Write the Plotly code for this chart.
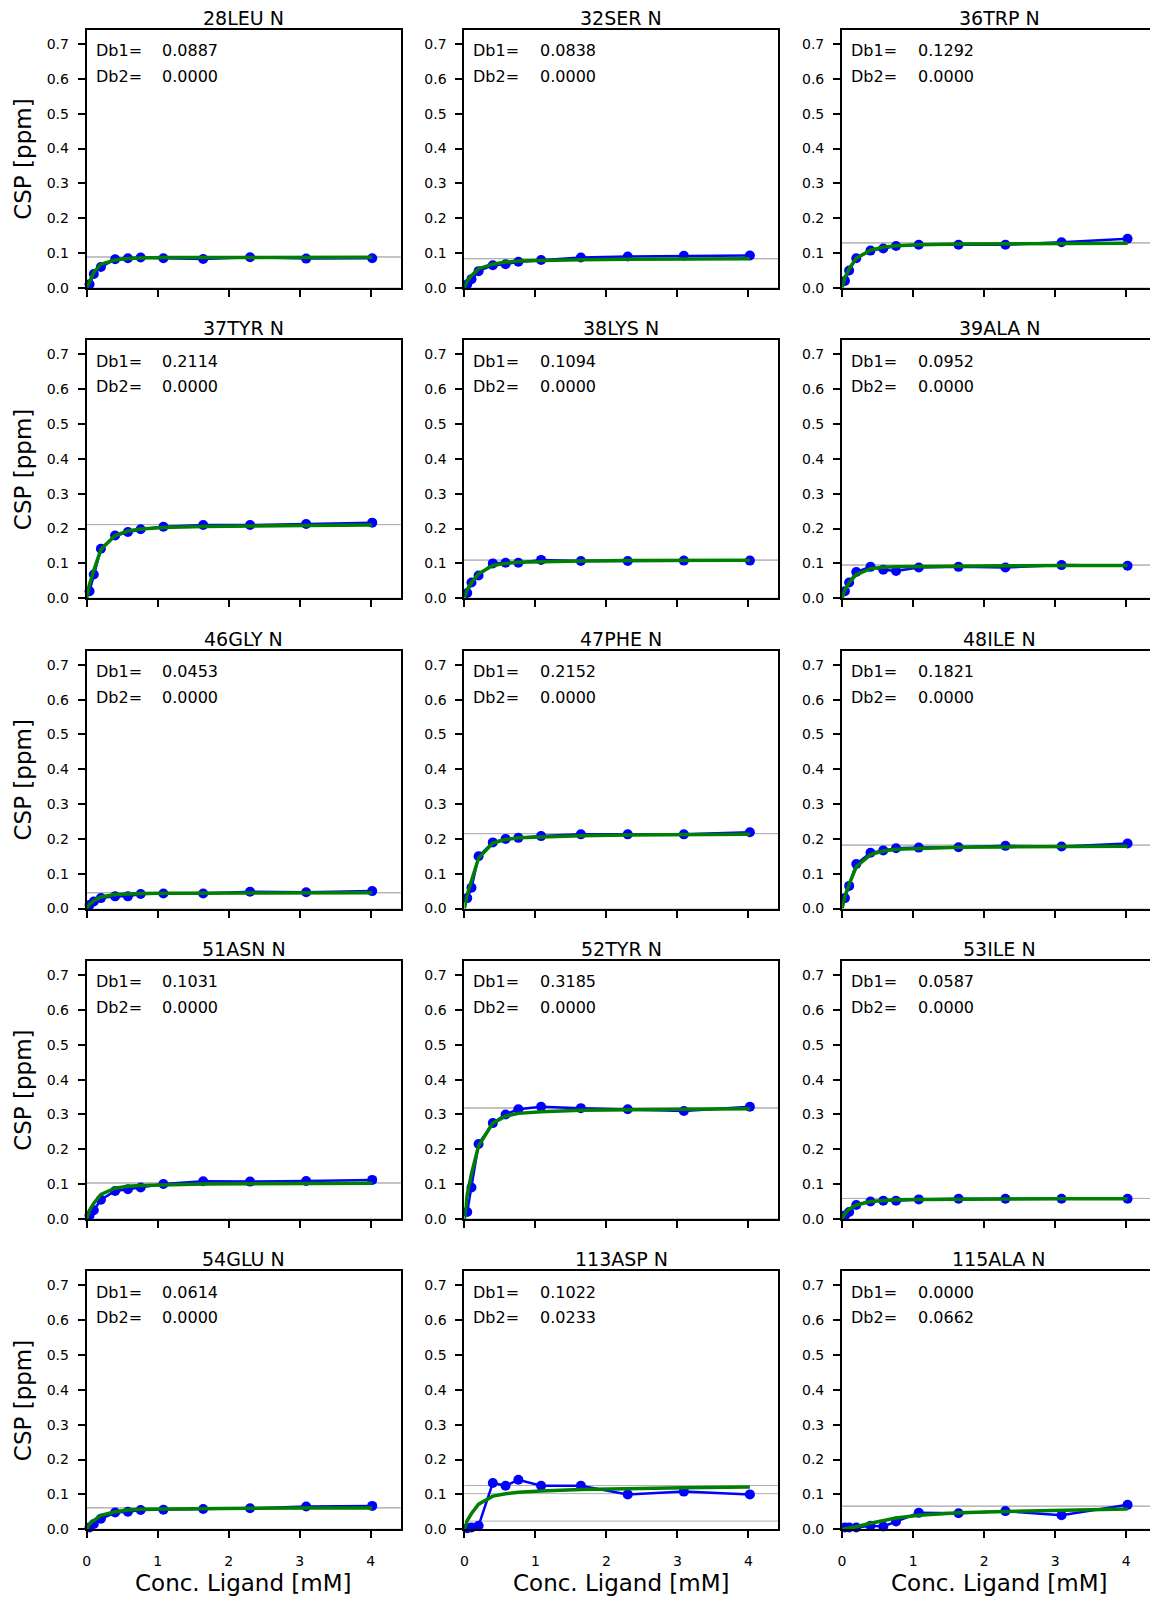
import plotly.graph_objects as go

# ---------------- data ----------------
conc = [0.04, 0.1, 0.2, 0.4, 0.58, 0.76, 1.08, 1.64, 2.3, 3.09, 4.02]
conc_fit = [0.0, 0.04, 0.1, 0.2, 0.4, 0.58, 0.76, 1.08, 1.64, 2.3, 3.09, 4.02]

residues = ["28LEU N", "32SER N", "36TRP N",
            "37TYR N", "38LYS N", "39ALA N",
            "46GLY N", "47PHE N", "48ILE N",
            "51ASN N", "52TYR N", "53ILE N",
            "54GLU N", "113ASP N", "115ALA N"]
db1 = [0.0887, 0.0838, 0.1292,
       0.2114, 0.1094, 0.0952,
       0.0453, 0.2152, 0.1821,
       0.1031, 0.3185, 0.0587,
       0.0614, 0.1022, 0.0000]
db2 = [0.0000, 0.0000, 0.0000,
       0.0000, 0.0000, 0.0000,
       0.0000, 0.0000, 0.0000,
       0.0000, 0.0000, 0.0000,
       0.0000, 0.0233, 0.0662]

obs_28LEU = [0.010, 0.040, 0.060, 0.082, 0.085, 0.087, 0.085, 0.083, 0.088, 0.084, 0.085]
obs_32SER = [0.010, 0.025, 0.048, 0.065, 0.068, 0.075, 0.080, 0.087, 0.090, 0.092, 0.093]
obs_36TRP = [0.020, 0.050, 0.085, 0.107, 0.113, 0.120, 0.124, 0.124, 0.124, 0.131, 0.141]
obs_37TYR = [0.020, 0.068, 0.142, 0.180, 0.190, 0.198, 0.205, 0.210, 0.210, 0.213, 0.217]
obs_38LYS = [0.015, 0.045, 0.065, 0.100, 0.102, 0.102, 0.110, 0.107, 0.107, 0.108, 0.108]
obs_39ALA = [0.020, 0.045, 0.075, 0.090, 0.082, 0.078, 0.088, 0.090, 0.088, 0.095, 0.093]
obs_46GLY = [0.010, 0.020, 0.030, 0.035, 0.035, 0.042, 0.043, 0.043, 0.048, 0.047, 0.050]
obs_47PHE = [0.030, 0.060, 0.150, 0.190, 0.200, 0.203, 0.208, 0.213, 0.213, 0.213, 0.219]
obs_48ILE = [0.030, 0.065, 0.128, 0.160, 0.167, 0.173, 0.175, 0.176, 0.180, 0.178, 0.187]
obs_51ASN = [0.010, 0.025, 0.055, 0.080, 0.085, 0.090, 0.100, 0.108, 0.107, 0.109, 0.112]
obs_52TYR = [0.020, 0.090, 0.215, 0.275, 0.300, 0.315, 0.322, 0.318, 0.315, 0.310, 0.322]
obs_53ILE = [0.010, 0.020, 0.040, 0.050, 0.052, 0.052, 0.056, 0.058, 0.058, 0.058, 0.058]
obs_54GLU = [0.005, 0.015, 0.030, 0.048, 0.050, 0.055, 0.056, 0.058, 0.060, 0.065, 0.067]
obs_113ASP = [0.003, 0.005, 0.010, 0.133, 0.125, 0.142, 0.125, 0.125, 0.100, 0.108, 0.100]
obs_115ALA = [0.005, 0.005, 0.005, 0.010, 0.008, 0.022, 0.047, 0.046, 0.052, 0.040, 0.070]

fit_28LEU = [0.0, 0.020, 0.045, 0.068, 0.080, 0.084, 0.086, 0.087, 0.087, 0.0875, 0.088, 0.088]
fit_32SER = [0.0, 0.020, 0.035, 0.055, 0.068, 0.074, 0.077, 0.079, 0.081, 0.082, 0.083, 0.0835]
fit_36TRP = [0.0, 0.030, 0.055, 0.085, 0.108, 0.117, 0.121, 0.124, 0.126, 0.127, 0.128, 0.128]
fit_37TYR = [0.0, 0.040, 0.080, 0.140, 0.180, 0.193, 0.199, 0.203, 0.206, 0.208, 0.209, 0.210]
fit_38LYS = [0.0, 0.025, 0.045, 0.070, 0.094, 0.100, 0.103, 0.105, 0.107, 0.108, 0.108, 0.109]
fit_39ALA = [0.0, 0.025, 0.045, 0.068, 0.085, 0.089, 0.090, 0.091, 0.092, 0.093, 0.094, 0.094]
fit_46GLY = [0.0, 0.012, 0.022, 0.033, 0.040, 0.042, 0.043, 0.044, 0.0445, 0.045, 0.045, 0.045]
fit_47PHE = [0.0, 0.040, 0.080, 0.145, 0.188, 0.198, 0.203, 0.206, 0.209, 0.211, 0.212, 0.213]
fit_48ILE = [0.0, 0.035, 0.070, 0.120, 0.155, 0.165, 0.170, 0.173, 0.176, 0.177, 0.178, 0.179]
fit_51ASN = [0.0, 0.025, 0.045, 0.070, 0.088, 0.094, 0.096, 0.098, 0.100, 0.101, 0.102, 0.102]
fit_52TYR = [0.0, 0.070, 0.130, 0.210, 0.275, 0.295, 0.303, 0.308, 0.312, 0.314, 0.315, 0.316]
fit_53ILE = [0.0, 0.015, 0.028, 0.040, 0.050, 0.053, 0.055, 0.056, 0.057, 0.057, 0.058, 0.058]
fit_54GLU = [0.0, 0.015, 0.025, 0.040, 0.050, 0.055, 0.057, 0.058, 0.059, 0.060, 0.061, 0.061]
fit_113ASP = [0.0, 0.025, 0.045, 0.072, 0.095, 0.102, 0.106, 0.110, 0.114, 0.117, 0.119, 0.121]
fit_115ALA = [0.0, 0.001, 0.003, 0.007, 0.017, 0.025, 0.032, 0.040, 0.047, 0.051, 0.055, 0.058]

obs_all = [obs_28LEU, obs_32SER, obs_36TRP, obs_37TYR, obs_38LYS, obs_39ALA,
           obs_46GLY, obs_47PHE, obs_48ILE, obs_51ASN, obs_52TYR, obs_53ILE,
           obs_54GLU, obs_113ASP, obs_115ALA]
fit_all = [fit_28LEU, fit_32SER, fit_36TRP, fit_37TYR, fit_38LYS, fit_39ALA,
           fit_46GLY, fit_47PHE, fit_48ILE, fit_51ASN, fit_52TYR, fit_53ILE,
           fit_54GLU, fit_113ASP, fit_115ALA]

x_ticks = [0, 1, 2, 3, 4]
y_ticks = [0.0, 0.1, 0.2, 0.3, 0.4, 0.5, 0.6, 0.7]

# ---------------- layout geometry (pixels) ----------------
W, H = 1150, 1600
col_left = [83, 462, 841]
box_w = 315
row_top0 = 30
row_pitch = 311.9
box_h = 259.3
x_max = 4.42
y_range = [0, 0.741]
FONT = "DejaVu Sans"

fig = go.Figure()
layout = {}
annotations = []
shapes = []

for i, name in enumerate(residues):
    r, c = divmod(i, 3)
    idx = i + 1
    xa = "xaxis" if idx == 1 else f"xaxis{idx}"
    ya = "yaxis" if idx == 1 else f"yaxis{idx}"
    xref = "x" if idx == 1 else f"x{idx}"
    yref = "y" if idx == 1 else f"y{idx}"

    left = col_left[c]
    right = min(left + box_w, W)
    top = row_top0 + r * row_pitch
    bottom = top + box_h
    xr = [0, x_max * (right - left) / box_w]

    layout[xa] = dict(
        domain=[left / W, right / W], range=xr, anchor=yref,
        showline=True, mirror=True, linecolor="black", linewidth=2,
        ticks="outside", ticklen=7, tickwidth=1.5, tickcolor="black",
        tickvals=x_ticks, showticklabels=(r == 4), showgrid=False, zeroline=False,
        tickfont=dict(family=FONT, size=14, color="black"), ticklabelstandoff=11,
    )
    layout[ya] = dict(
        domain=[1 - bottom / H, 1 - top / H], range=y_range, anchor=xref,
        showline=True, mirror=(c != 2), linecolor="black", linewidth=2,
        ticks="outside", ticklen=7, tickwidth=1.5, tickcolor="black",
        tickvals=y_ticks, ticktext=[f"{v:.1f}" for v in y_ticks],
        showgrid=False, zeroline=False, ticklabelstandoff=6,
        tickfont=dict(family=FONT, size=14, color="black"),
    )

    # reference lines
    for yv in [db1[i], db2[i], db1[i] + db2[i]]:
        shapes.append(dict(type="line", xref=f"{xref} domain", yref=yref,
                           x0=0, x1=1, y0=yv, y1=yv, layer="below",
                           line=dict(color="#b0b0b0", width=1)))

    fig.add_trace(go.Scatter(
        x=conc, y=obs_all[i], xaxis=xref, yaxis=yref, mode="lines+markers",
        line=dict(color="blue", width=2.5), marker=dict(color="blue", size=10),
        showlegend=False, cliponaxis=False))
    fig.add_trace(go.Scatter(
        x=conc_fit, y=fit_all[i], xaxis=xref, yaxis=yref, mode="lines",
        line=dict(color="green", width=3.5), showlegend=False))

    cx = (left + left + box_w) / 2
    annotations.append(dict(text=name, x=cx / W, y=1 - (top - 12) / H,
                            xref="paper", yref="paper", showarrow=False,
                            xanchor="center", yanchor="middle",
                            font=dict(family=FONT, size=19, color="black")))
    for k, (lab, val) in enumerate([("Db1=", db1[i]), ("Db2=", db2[i])]):
        yy = 1 - (top + 21 + 26 * k) / H
        annotations.append(dict(text=lab, x=(left + 7) / W, y=yy,
                                xref="paper", yref="paper", showarrow=False,
                                xanchor="left", yanchor="middle",
                                font=dict(family=FONT, size=16, color="black")))
        annotations.append(dict(text=f"{val:.4f}", x=(left + 74) / W, y=yy,
                                xref="paper", yref="paper", showarrow=False,
                                xanchor="left", yanchor="middle",
                                font=dict(family=FONT, size=16, color="black")))

    if c == 0:
        annotations.append(dict(text="CSP [ppm]", x=19 / W, y=1 - (top + box_h / 2) / H,
                                xref="paper", yref="paper", showarrow=False, textangle=-90,
                                xanchor="center", yanchor="middle",
                                font=dict(family=FONT, size=23, color="black")))
    if r == 4:
        annotations.append(dict(text="Conc. Ligand [mM]", x=cx / W, y=1 - 1591 / H,
                                xref="paper", yref="paper", showarrow=False,
                                xanchor="center", yanchor="middle",
                                font=dict(family=FONT, size=23, color="black")))

fig.update_layout(
    width=W, height=H, margin=dict(l=0, r=0, t=0, b=0),
    paper_bgcolor="white", plot_bgcolor="white",
    annotations=annotations, shapes=shapes, showlegend=False,
    **layout,
)

fig.write_html("out.html", config={"displayModeBar": False},
               post_script="document.body.style.margin='0px';document.body.style.overflow='hidden';")
